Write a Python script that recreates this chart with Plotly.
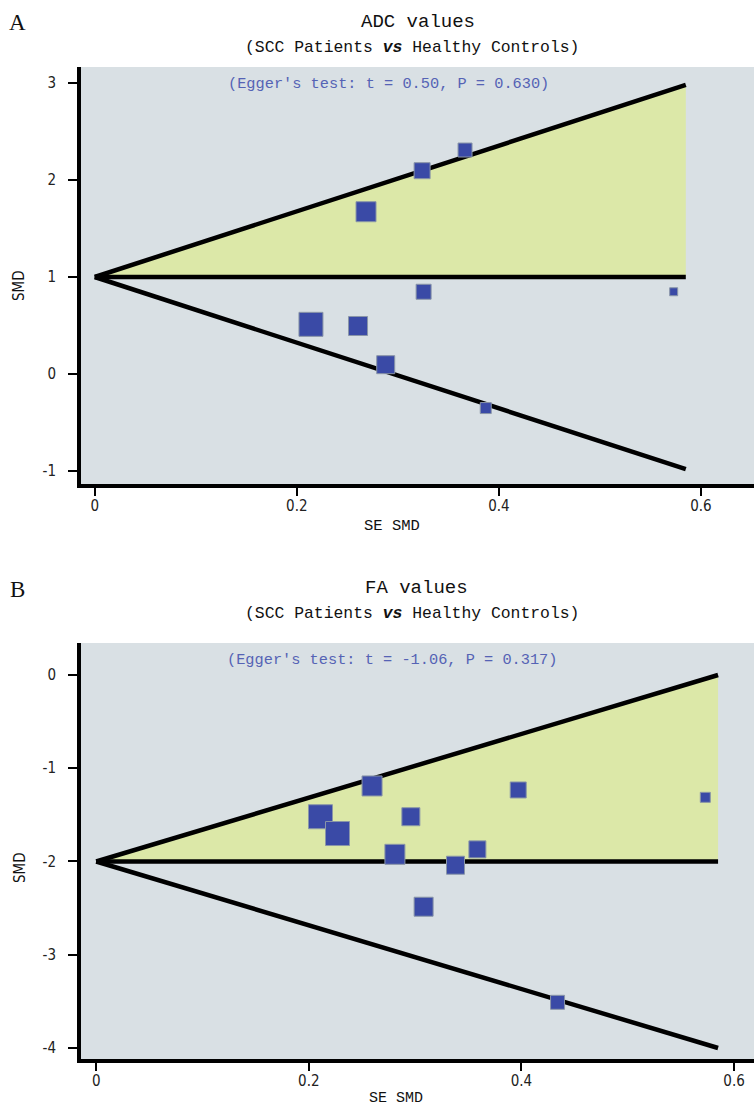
import plotly.graph_objects as go

# ---------------- data ----------------
# Panel A: ADC values
se_a = [0.214, 0.2606, 0.2685, 0.288, 0.324, 0.3255, 0.3665, 0.387, 0.573]
smd_a = [0.512, 0.495, 1.673, 0.096, 2.096, 0.848, 2.309, -0.351, 0.848]
weight_a = [24, 19, 20, 18, 16, 15, 14, 11, 8]
center_a = 1.0
ci_half_a = 1.98

# Panel B: FA values
se_b = [0.211, 0.227, 0.2595, 0.281, 0.296, 0.308, 0.338, 0.3586, 0.397, 0.434, 0.573]
smd_b = [-1.52, -1.70, -1.19, -1.923, -1.52, -2.485, -2.04, -1.87, -1.233, -3.51, -1.312]
weight_b = [24, 24, 20, 20, 18, 19, 18, 17, 16, 14, 10]
center_b = -2.0
ci_half_b = 2.0

se_max = 0.585

x_tickvals = [0, 0.2, 0.4, 0.6]
x_ticktext = ["0", "0.2", "0.4", "0.6"]
y_tickvals_a = [-1, 0, 1, 2, 3]
y_ticktext_a = ["-1", "0", "1", "2", "3"]
y_tickvals_b = [-4, -3, -2, -1, 0]
y_ticktext_b = ["-4", "-3", "-2", "-1", "0"]

egger_a = "(Egger's test: t = 0.50, P = 0.630)"
egger_b = "(Egger's test: t = -1.06, P = 0.317)"

# ---------------- style ----------------
W, H = 754, 1111
BG = "#D9E0E4"
YELLOW = "#DCE8A8"
MARK = "#3A4AA6"
MARK_EDGE = "#8A96A8"
EGGER_COL = "#5563B5"
TITLE_FONT = "Liberation Mono, DejaVu Sans Mono, monospace"
TICK_FONT = "DejaVu Sans Condensed, Liberation Sans Narrow, Liberation Sans, sans-serif"


def px(x):
    return x / W


def py(y):
    return 1 - y / H


fig = go.Figure()


def add_panel(se, smd, w, c, h, xa, ya):
    fig.add_trace(go.Scatter(
        x=[0, se_max, se_max, 0], y=[c, c + h, c, c], fill="toself",
        fillcolor=YELLOW, mode="none", xaxis=xa, yaxis=ya, hoverinfo="skip"))
    for yend in (c + h, c - h, c):
        fig.add_trace(go.Scatter(
            x=[0, se_max], y=[c, yend], mode="lines",
            line=dict(color="black", width=4.5), xaxis=xa, yaxis=ya,
            hoverinfo="skip"))
    fig.add_trace(go.Scatter(
        x=se, y=smd, mode="markers", xaxis=xa, yaxis=ya,
        marker=dict(symbol="square", size=w, color=MARK, opacity=1,
                    line=dict(color=MARK_EDGE, width=1))))


add_panel(se_a, smd_a, weight_a, center_a, ci_half_a, "x", "y")
add_panel(se_b, smd_b, weight_b, center_b, ci_half_b, "x2", "y2")

axis_common = dict(
    showgrid=False, zeroline=False, showline=True, linecolor="black",
    linewidth=4, ticks="outside", tickwidth=2, tickcolor="black",
    tickfont=dict(family=TICK_FONT, size=15, color="#222"), mirror=False,
)
xax = dict(ticklen=8, ticklabelstandoff=-3, **axis_common)
yax = dict(ticklen=9, ticklabelstandoff=9, **axis_common)

fig.update_layout(
    width=W, height=H, paper_bgcolor="white", plot_bgcolor=BG,
    margin=dict(l=0, r=0, t=0, b=0), showlegend=False,
    xaxis=dict(domain=[px(81), 1], range=[-0.0136, 0.6525], anchor="y",
               tickvals=x_tickvals, ticktext=x_ticktext, **xax),
    yaxis=dict(domain=[py(484), py(67)], range=[-1.134, 3.165], anchor="x",
               tickvals=y_tickvals_a, ticktext=y_ticktext_a, **yax),
    xaxis2=dict(domain=[px(81), 1], range=[-0.0143, 0.6188], anchor="y2",
                tickvals=x_tickvals, ticktext=x_ticktext, **xax),
    yaxis2=dict(domain=[py(1059), py(643)], range=[-4.118, 0.343], anchor="x2",
                tickvals=y_tickvals_b, ticktext=y_ticktext_b, **yax),
)

ann = []


def text(x, y, s, size, color="#111", family=TITLE_FONT, angle=0):
    ann.append(dict(x=px(x), y=py(y), xref="paper", yref="paper", text=s,
                    showarrow=False, xanchor="center", yanchor="middle",
                    textangle=angle,
                    font=dict(family=family, size=size, color=color)))


# Panel A texts
text(17, 22, "A", 23, family="Liberation Serif, serif")
text(418, 22, "ADC values", 19)
text(412, 47, "(SCC Patients <b><i>vs</i></b> Healthy Controls)", 16.4)
text(388, 84, egger_a, 15.3, color=EGGER_COL)
text(392, 526, "SE SMD", 15.5)
text(19, 286, "SMD", 15, family=TICK_FONT, angle=-90)

# Panel B texts
text(17, 589, "B", 23, family="Liberation Serif, serif")
text(416, 588, "FA values", 19)
text(412, 613, "(SCC Patients <b><i>vs</i></b> Healthy Controls)", 16.4)
text(392, 660, egger_b, 15.3, color=EGGER_COL)
text(396, 1098, "SE SMD", 15)
text(20, 868, "SMD", 15, family=TICK_FONT, angle=-90)

fig.update_layout(annotations=ann)

# remove the default page margin so the figure fills the window exactly
fig.write_html("out.html",
               config={"displayModeBar": False},
               post_script="document.body.style.margin='0';"
                           "document.body.style.overflow='hidden';")
